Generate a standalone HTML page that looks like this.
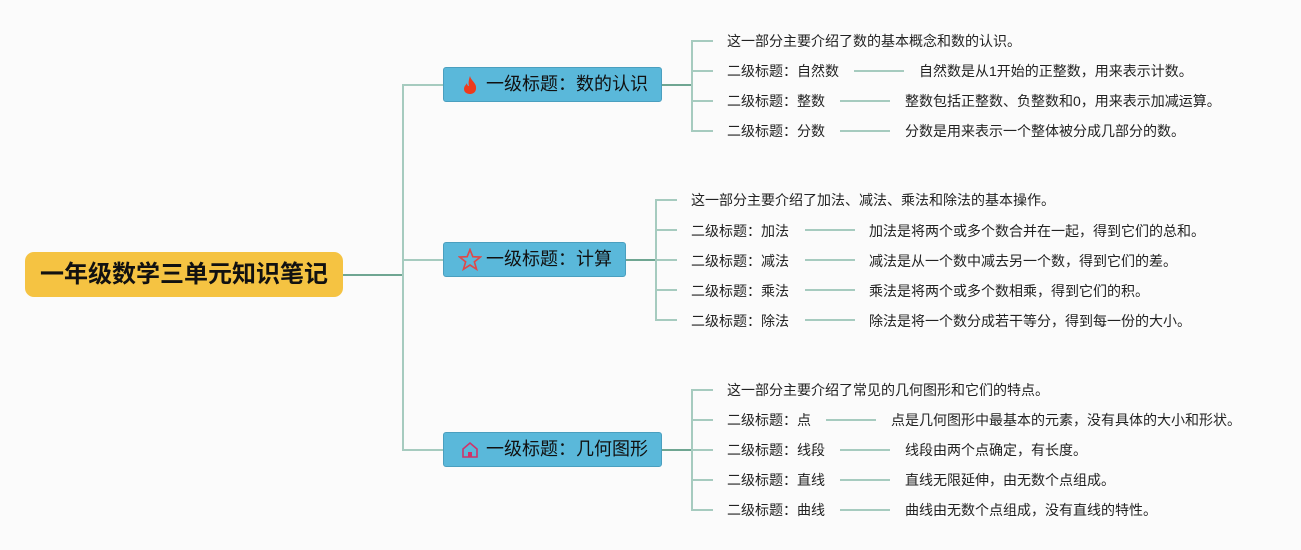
<!DOCTYPE html>
<html><head><meta charset="utf-8"><style>
body{margin:0;width:1301px;height:550px;background:#fbfbfb;position:relative;overflow:hidden;font-family:"Liberation Sans","Noto Sans CJK SC",sans-serif;}
.a{position:absolute}
.root{left:25px;top:252px;width:318px;height:45px;background:#f5c342;border-radius:9px;font-size:24px;font-weight:bold;color:#111;text-align:center;line-height:45px;white-space:nowrap}
.l1{height:35px;background:#5ab8da;border:1px solid #4a9fbf;border-radius:3px;font-size:18px;color:#111;line-height:33px;box-sizing:border-box;padding-left:42px;white-space:nowrap}
.t{font-size:14px;color:#222;white-space:nowrap;line-height:16px}
.h{height:2px;background:#a6cbbf}
.v{width:2px;background:#a6cbbf}
.hd{height:2px;background:#6fa692}
.ic{position:absolute;left:16px;top:7px}
</style></head><body>
<div class="a root">一年级数学三单元知识笔记</div>
<div class="a hd" style="left:343px;top:274px;width:61px"></div>
<div class="a v" style="left:402px;top:84px;height:367px"></div>
<div class="a h" style="left:402px;top:84px;width:42px"></div>
<div class="a h" style="left:402px;top:259px;width:42px"></div>
<div class="a h" style="left:402px;top:449px;width:42px"></div>

<div class="a l1" style="left:443px;top:67px;width:219px"><svg class="ic" width="20" height="20" viewBox="0 0 20 20"><path d="M10 1C11 6 17 8 16 14c-.5 4-4 5-6 5s-6-1-6-5c0-3 2-4 3-6 0 2 1 3 2 3C8 8 9 4 10 1z" fill="#ee3a1c"/></svg>一级标题：数的认识</div>
<div class="a l1" style="left:443px;top:242px;width:183px"><svg class="ic" width="24" height="24" viewBox="0 0 22 22" style="top:5px;left:14px"><polygon points="11,1.5 13.6,8 20.5,8.3 15,12.7 17,19.5 11,15.6 5,19.5 7,12.7 1.5,8.3 8.4,8" fill="none" stroke="#e04848" stroke-width="1.5"/></svg>一级标题：计算</div>
<div class="a l1" style="left:443px;top:432px;width:219px"><svg class="ic" width="20" height="20" viewBox="0 0 20 20"><path d="M3 9L10 3l7 6v8H3z" fill="none" stroke="#d0336a" stroke-width="1.6"/><rect x="8" y="12" width="4" height="5" fill="#d0336a"/></svg>一级标题：几何图形</div>

<div class="a hd" style="left:662px;top:84px;width:31px"></div>
<div class="a v" style="left:691px;top:40px;height:92px"></div>
<div class="a h" style="left:691px;top:40px;width:22px"></div>
<div class="a h" style="left:691px;top:70px;width:22px"></div>
<div class="a h" style="left:691px;top:100px;width:22px"></div>
<div class="a h" style="left:691px;top:130px;width:22px"></div>
<div class="a t" style="left:727px;top:33px">这一部分主要介绍了数的基本概念和数的认识。</div>
<div class="a t" style="left:727px;top:63px">二级标题：自然数</div>
<div class="a h" style="left:854px;top:70px;width:50px"></div>
<div class="a t" style="left:919px;top:63px">自然数是从1开始的正整数，用来表示计数。</div>
<div class="a t" style="left:727px;top:93px">二级标题：整数</div>
<div class="a h" style="left:840px;top:100px;width:50px"></div>
<div class="a t" style="left:905px;top:93px">整数包括正整数、负整数和0，用来表示加减运算。</div>
<div class="a t" style="left:727px;top:123px">二级标题：分数</div>
<div class="a h" style="left:840px;top:130px;width:50px"></div>
<div class="a t" style="left:905px;top:123px">分数是用来表示一个整体被分成几部分的数。</div>

<div class="a hd" style="left:626px;top:259px;width:31px"></div>
<div class="a v" style="left:655px;top:199px;height:122px"></div>
<div class="a h" style="left:655px;top:199px;width:22px"></div>
<div class="a h" style="left:655px;top:229px;width:22px"></div>
<div class="a h" style="left:655px;top:259px;width:22px"></div>
<div class="a h" style="left:655px;top:289px;width:22px"></div>
<div class="a h" style="left:655px;top:319px;width:22px"></div>
<div class="a t" style="left:691px;top:192px">这一部分主要介绍了加法、减法、乘法和除法的基本操作。</div>
<div class="a t" style="left:691px;top:223px">二级标题：加法</div>
<div class="a h" style="left:805px;top:229px;width:50px"></div>
<div class="a t" style="left:869px;top:223px">加法是将两个或多个数合并在一起，得到它们的总和。</div>
<div class="a t" style="left:691px;top:253px">二级标题：减法</div>
<div class="a h" style="left:805px;top:259px;width:50px"></div>
<div class="a t" style="left:869px;top:253px">减法是从一个数中减去另一个数，得到它们的差。</div>
<div class="a t" style="left:691px;top:283px">二级标题：乘法</div>
<div class="a h" style="left:805px;top:289px;width:50px"></div>
<div class="a t" style="left:869px;top:283px">乘法是将两个或多个数相乘，得到它们的积。</div>
<div class="a t" style="left:691px;top:313px">二级标题：除法</div>
<div class="a h" style="left:805px;top:319px;width:50px"></div>
<div class="a t" style="left:869px;top:313px">除法是将一个数分成若干等分，得到每一份的大小。</div>

<div class="a hd" style="left:662px;top:449px;width:31px"></div>
<div class="a v" style="left:691px;top:389px;height:122px"></div>
<div class="a h" style="left:691px;top:389px;width:22px"></div>
<div class="a h" style="left:691px;top:419px;width:22px"></div>
<div class="a h" style="left:691px;top:449px;width:22px"></div>
<div class="a h" style="left:691px;top:479px;width:22px"></div>
<div class="a h" style="left:691px;top:509px;width:22px"></div>
<div class="a t" style="left:727px;top:382px">这一部分主要介绍了常见的几何图形和它们的特点。</div>
<div class="a t" style="left:727px;top:412px">二级标题：点</div>
<div class="a h" style="left:826px;top:419px;width:50px"></div>
<div class="a t" style="left:891px;top:412px">点是几何图形中最基本的元素，没有具体的大小和形状。</div>
<div class="a t" style="left:727px;top:442px">二级标题：线段</div>
<div class="a h" style="left:840px;top:449px;width:50px"></div>
<div class="a t" style="left:905px;top:442px">线段由两个点确定，有长度。</div>
<div class="a t" style="left:727px;top:472px">二级标题：直线</div>
<div class="a h" style="left:840px;top:479px;width:50px"></div>
<div class="a t" style="left:905px;top:472px">直线无限延伸，由无数个点组成。</div>
<div class="a t" style="left:727px;top:502px">二级标题：曲线</div>
<div class="a h" style="left:840px;top:509px;width:50px"></div>
<div class="a t" style="left:905px;top:502px">曲线由无数个点组成，没有直线的特性。</div>
</body></html>
